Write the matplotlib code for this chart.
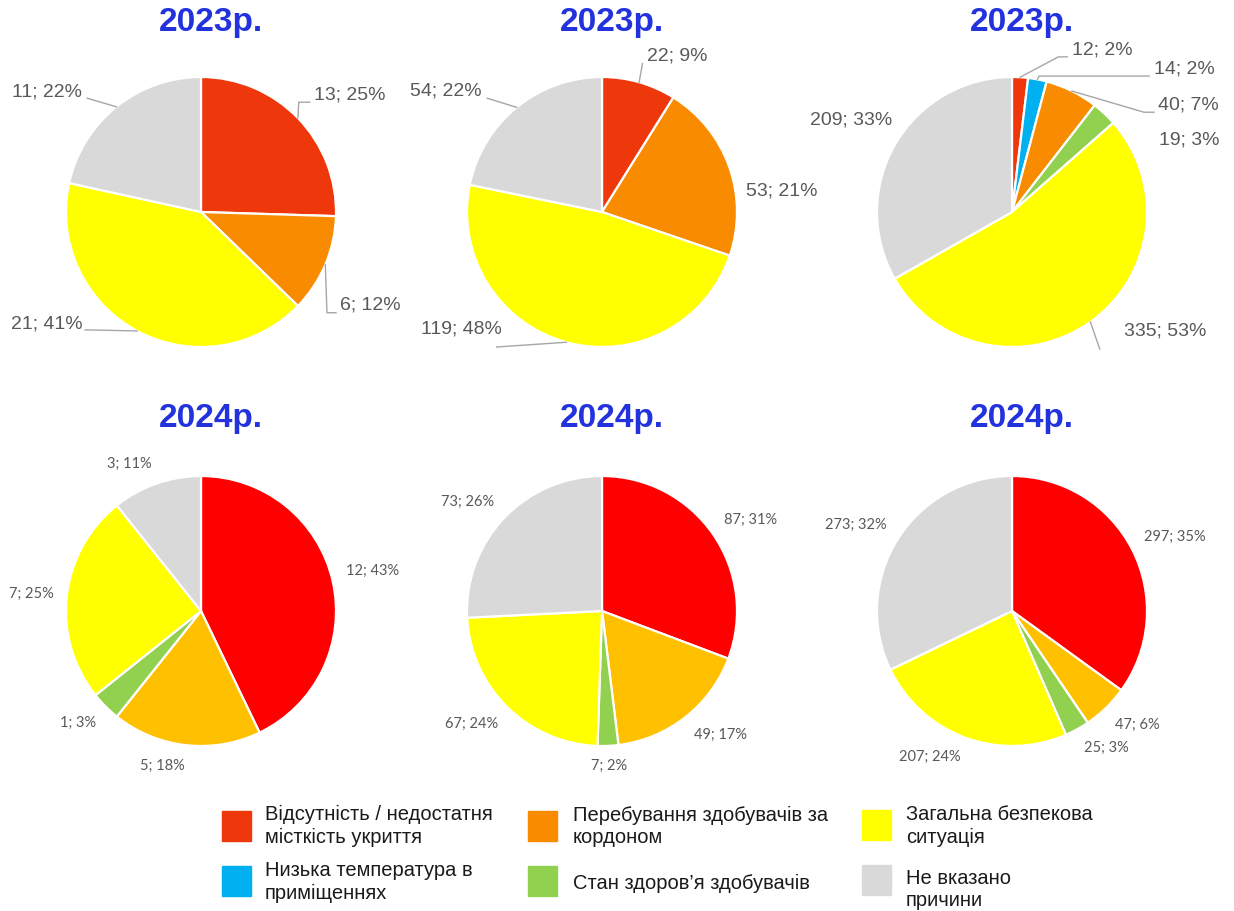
import numpy as np
import matplotlib.pyplot as plt
from matplotlib.patches import Rectangle

W, H = 1234, 911

# categories (legend order)
keys = ['shelter', 'cold', 'abroad', 'health', 'security', 'unknown']
legend_labels = ['Відсутність / недостатня\nмісткість укриття',
                 'Низька температура в\nприміщеннях',
                 'Перебування здобувачів за\nкордоном',
                 'Стан здоров’я здобувачів',
                 'Загальна безпекова\nситуація',
                 'Не вказано\nпричини']
colors_2023 = {'shelter': '#EE380C', 'cold': '#00B0F0', 'abroad': '#F98B00',
               'health': '#92D050', 'security': '#FFFF00', 'unknown': '#D9D9D9'}
colors_2024 = {'shelter': '#FF0000', 'cold': '#00B0F0', 'abroad': '#FFC000',
               'health': '#92D050', 'security': '#FFFF00', 'unknown': '#D9D9D9'}

# 2023 pies
cats_23a = ['shelter', 'abroad', 'security', 'unknown']
vals_23a = [13, 6, 21, 11]
pct_23a = [25, 12, 41, 22]

cats_23b = ['shelter', 'abroad', 'security', 'unknown']
vals_23b = [22, 53, 119, 54]
pct_23b = [9, 21, 48, 22]

cats_23c = ['shelter', 'cold', 'abroad', 'health', 'security', 'unknown']
vals_23c = [12, 14, 40, 19, 335, 209]
pct_23c = [2, 2, 7, 3, 53, 33]

# 2024 pies
cats_24 = ['shelter', 'abroad', 'health', 'security', 'unknown']
vals_24a = [12, 5, 1, 7, 3]
pct_24a = [43, 18, 3, 25, 11]
vals_24b = [87, 49, 7, 67, 73]
pct_24b = [31, 17, 2, 24, 26]
vals_24c = [297, 47, 25, 207, 273]
pct_24c = [35, 6, 3, 24, 32]

# label layout for the 2023 pies (radius units): text pos, ha, leader waypoints
lay_23a = [((0.836, 0.866), 'left', [(0.724, 0.813), (0.806, 0.813)]),
           ((1.03, -0.69), 'left', [(0.933, -0.746), (1.0, -0.746)]),
           ((-0.88, -0.83), 'right', [(-0.858, -0.873)]),
           ((-0.88, 0.888), 'right', [(-0.843, 0.843)])]
lay_23b = [((0.336, 1.157), 'left', [(0.30, 1.10)]),
           ((1.067, 0.157), 'left', []),
           ((-0.74, -0.866), 'right', [(-0.78, -1.0)]),
           ((-0.888, 0.896), 'right', [(-0.85, 0.843)])]
lay_23c = [((0.448, 1.20), 'left', [(0.343, 1.149), (0.41, 1.149)]),
           ((1.05, 1.06), 'left', [(0.2, 1.007), (1.015, 1.007)]),
           ((1.08, 0.79), 'left', [(0.978, 0.739), (1.052, 0.739)]),
           ((1.09, 0.53), 'left', []),
           ((0.83, -0.88), 'left', [(0.65, -1.015)]),
           ((-0.888, 0.68), 'right', [])]

fig = plt.figure(figsize=(W / 100, H / 100), dpi=100)
fig.patch.set_facecolor('white')

R = 135
title_color = '#2232DC'
label_color = '#595959'


def pie_axes(cx, cy):
    return fig.add_axes([(cx - R) / W, 1 - (cy + R) / H, 2 * R / W, 2 * R / H])


def draw_pie(ax, vals, cats, cmap):
    wedges, _ = ax.pie(vals, colors=[cmap[c] for c in cats], startangle=90,
                       counterclock=False, radius=1,
                       wedgeprops=dict(edgecolor='white', linewidth=1.6))
    ax.set_xlim(-1, 1)
    ax.set_ylim(-1, 1)
    ax.set_aspect('equal')
    ax.axis('off')
    return wedges


# row 1: 2023
for cx, vals, pcts, cats, lay in [(201, vals_23a, pct_23a, cats_23a, lay_23a),
                                  (602, vals_23b, pct_23b, cats_23b, lay_23b),
                                  (1012, vals_23c, pct_23c, cats_23c, lay_23c)]:
    ax = pie_axes(cx, 212)
    wedges = draw_pie(ax, vals, cats, colors_2023)
    for w, v, p, (pos, ha, pts) in zip(wedges, vals, pcts, lay):
        mid = np.deg2rad((w.theta1 + w.theta2) / 2)
        if pts:
            xs = [np.cos(mid)] + [q[0] for q in pts]
            ys = [np.sin(mid)] + [q[1] for q in pts]
            ax.plot(xs, ys, color='#A6A6A6', lw=1, clip_on=False)
        ax.text(pos[0], pos[1], f'{v}; {p}%', ha=ha, va='center', fontsize=14,
                color=label_color, family='Liberation Sans', clip_on=False)
    fig.text((cx + 10) / W, 1 - 23 / H, '2023р.', ha='center', va='center',
             fontsize=24, fontweight='bold', color=title_color, family='Liberation Sans')

# row 2: 2024
for cx, vals, pcts in [(201, vals_24a, pct_24a), (602, vals_24b, pct_24b),
                       (1012, vals_24c, pct_24c)]:
    ax = pie_axes(cx, 611)
    wedges = draw_pie(ax, vals, cats_24, colors_2024)
    for w, v, p in zip(wedges, vals, pcts):
        mid = np.deg2rad((w.theta1 + w.theta2) / 2)
        c, s = np.cos(mid), np.sin(mid)
        ha = 'left' if c > 0.1 else ('right' if c < -0.1 else 'center')
        va = 'bottom' if s > 0.2 else ('top' if s < -0.3 else 'center')
        ax.text(1.1 * c, 1.1 * s, f'{v}; {p}%', ha=ha, va=va, fontsize=10.5,
                color=label_color, family='Lato', clip_on=False)
    fig.text((cx + 10) / W, 1 - 419 / H, '2024р.', ha='center', va='center',
             fontsize=24, fontweight='bold', color=title_color, family='Liberation Sans')

# legend (square left x, square top y, text x, text center y) in pixels
leg_pos = [(222, 811, 265, 826), (222, 866, 265, 882),
           (528, 811, 573, 826), (528, 866, 573, 883),
           (862, 810, 906, 826), (862, 865, 906, 890)]
for k, lab, (sx, sy, tx, ty) in zip(keys, legend_labels, leg_pos):
    fig.patches.append(Rectangle((sx / W, 1 - (sy + 30) / H), 29 / W, 30 / H,
                                 transform=fig.transFigure, color=colors_2023[k]))
    fig.text(tx / W, 1 - ty / H, lab, ha='left', va='center', fontsize=14.5,
             color='#1a1a1a', family='Liberation Sans', linespacing=1.2)

fig.savefig('out.png', dpi=100, facecolor='white')
